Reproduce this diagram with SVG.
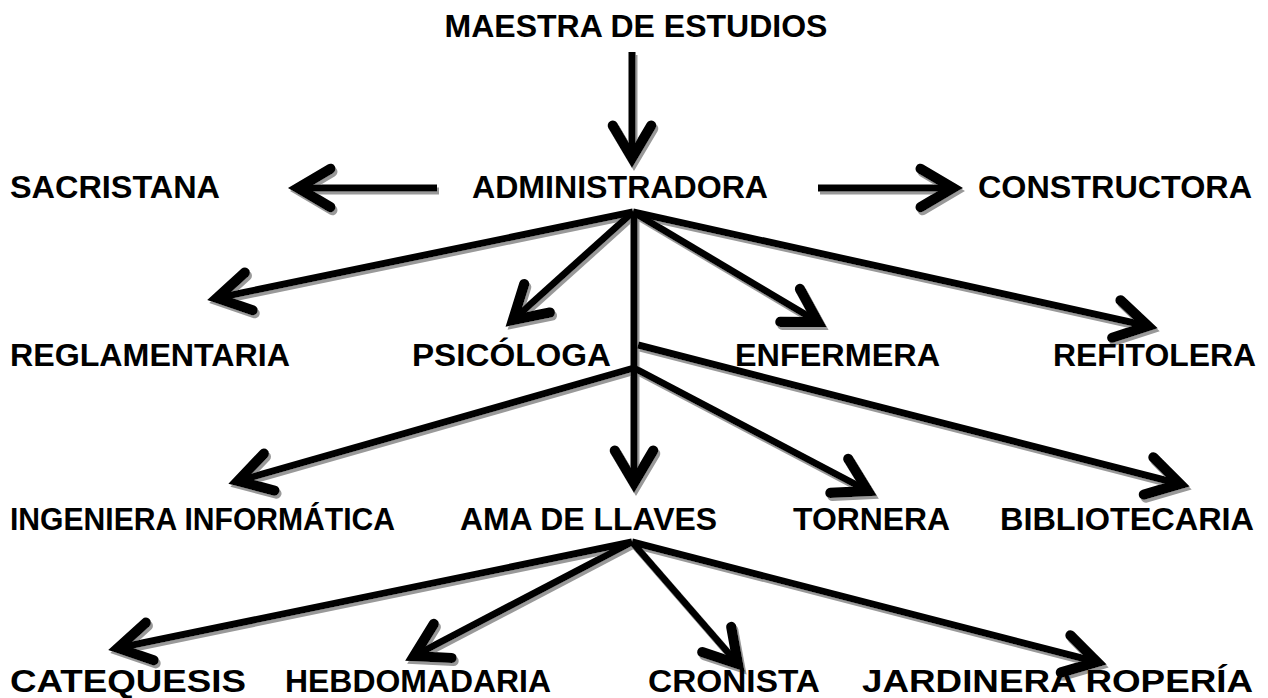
<svg xmlns="http://www.w3.org/2000/svg" width="1268" height="698" viewBox="0 0 1268 698">
<style>
text{font-family:"Liberation Sans",Arial,sans-serif;font-weight:bold;font-size:32px;fill:#000}
.c line{stroke:#000;stroke-width:7;marker-end:url(#ah)}
</style>
<defs>
<marker id="ah" markerUnits="userSpaceOnUse" markerWidth="60" markerHeight="60" viewBox="-35 -25 45 50" refX="0" refY="0" orient="auto" overflow="visible">
<path d="M-27,-16 L0,0 L-27,16" fill="none" stroke="#000" stroke-width="8.5" stroke-linecap="round" stroke-linejoin="miter"/>
</marker>
<filter id="sh" x="-10%" y="-10%" width="120%" height="120%">
<feDropShadow dx="2" dy="3" stdDeviation="0.6" flood-color="#999" flood-opacity="1"/>
</filter>
</defs>
<rect width="1268" height="698" fill="#fff"/>
<g id="connectors" class="c" filter="url(#sh)">
<line x1="632" y1="52" x2="632" y2="158"/>
<line x1="437" y1="188" x2="298" y2="188"/>
<line x1="818" y1="188" x2="953" y2="188"/>
<line x1="633" y1="212" x2="217" y2="298"/>
<line x1="633" y1="212" x2="513" y2="320"/>
<line x1="633" y1="212" x2="818" y2="322"/>
<line x1="633" y1="212" x2="1148" y2="326"/>
<line x1="634" y1="212" x2="634" y2="483"/>
<line x1="634" y1="368" x2="238" y2="481"/>
<line x1="634" y1="368" x2="868" y2="491"/>
<line x1="638" y1="345" x2="1180" y2="484"/>
<line x1="632" y1="542" x2="118" y2="648"/>
<line x1="632" y1="542" x2="414" y2="656"/>
<line x1="632" y1="542" x2="738" y2="664"/>
<line x1="632" y1="542" x2="1097" y2="662"/>
</g>
<g id="maestra"><text x="636" y="37" text-anchor="middle">MAESTRA DE ESTUDIOS</text></g>
<g id="sacristana"><text x="10" y="198" textLength="210" lengthAdjust="spacingAndGlyphs">SACRISTANA</text></g>
<g id="administradora"><text x="472" y="198" textLength="296" lengthAdjust="spacingAndGlyphs">ADMINISTRADORA</text></g>
<g id="constructora"><text x="978" y="198" textLength="274" lengthAdjust="spacingAndGlyphs">CONSTRUCTORA</text></g>
<g id="reglamentaria"><text x="10" y="366" textLength="280" lengthAdjust="spacingAndGlyphs">REGLAMENTARIA</text></g>
<g id="psicologa"><text x="412" y="366" textLength="199" lengthAdjust="spacingAndGlyphs">PSICÓLOGA</text></g>
<g id="enfermera"><text x="735" y="366" textLength="205" lengthAdjust="spacingAndGlyphs">ENFERMERA</text></g>
<g id="refitolera"><text x="1053" y="366" textLength="203" lengthAdjust="spacingAndGlyphs">REFITOLERA</text></g>
<g id="ingeniera"><text x="10" y="530" textLength="385" lengthAdjust="spacingAndGlyphs">INGENIERA INFORMÁTICA</text></g>
<g id="ama"><text x="460" y="530" textLength="257" lengthAdjust="spacingAndGlyphs">AMA DE LLAVES</text></g>
<g id="tornera"><text x="793" y="530" textLength="157" lengthAdjust="spacingAndGlyphs">TORNERA</text></g>
<g id="bibliotecaria"><text x="1000" y="530" textLength="254" lengthAdjust="spacingAndGlyphs">BIBLIOTECARIA</text></g>
<g id="catequesis"><text x="10" y="692" textLength="236" lengthAdjust="spacingAndGlyphs">CATEQUESIS</text></g>
<g id="hebdomadaria"><text x="285" y="692" textLength="266" lengthAdjust="spacingAndGlyphs">HEBDOMADARIA</text></g>
<g id="cronista"><text x="648" y="692" textLength="172" lengthAdjust="spacingAndGlyphs">CRONISTA</text></g>
<g id="jardinera"><text x="862" y="692" textLength="391" lengthAdjust="spacingAndGlyphs">JARDINERA ROPERÍA</text></g>
</svg>
